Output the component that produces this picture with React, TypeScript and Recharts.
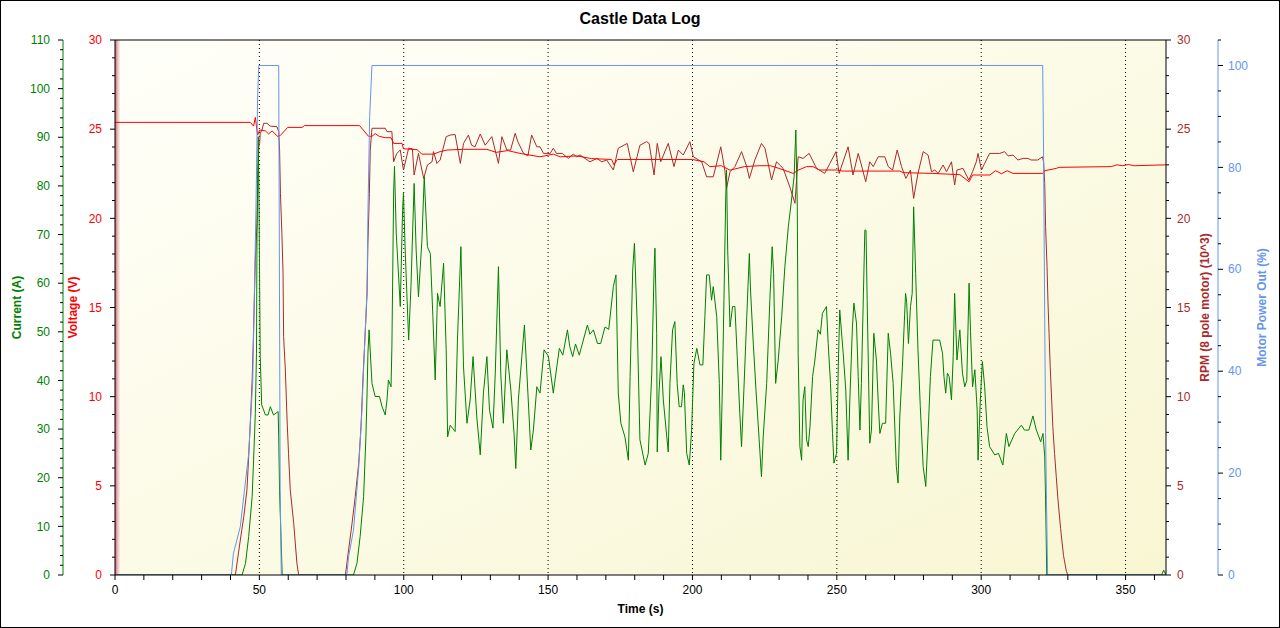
import React from 'react'
import {
  ComposedChart,
  Line,
  XAxis,
  YAxis,
  CartesianGrid,
  ReferenceArea
} from 'recharts'

// motor power out (%)
const powerTime = [0, 40.3, 41, 43.4, 46.3, 47.7, 48.8, 49.4, 49.8, 56.7, 57.2, 57.6, 80.3, 80.9, 82.6, 84.4, 85.5, 86.1, 87.3, 87.6, 88.2, 89, 321.3, 321.6, 322, 322.3, 322.6, 323, 364]
const powerPct = [0, 0, 4.2, 9.5, 23.8, 38, 71, 94, 100, 100, 17, 0, 0, 3.6, 8.8, 21, 32, 40.5, 56, 71, 90, 100, 100, 83, 50, 28, 14.7, 0, 0]

// battery voltage (V)
const voltageTime = [
  0, 46.9, 48.0, 48.6, 49.4, 50.1, 52.1, 53.2, 54.4, 56.3,
  57.3, 59.8, 64.8, 65.6, 84.7, 87.8, 89, 90.1, 91.5, 93.6,
  95.6, 96.5, 99.4, 99.9, 104.6, 106.3, 110.3, 112.6, 115, 120.7,
  128.8, 132, 136, 140.3, 147.2, 151.8, 154.2, 160, 165, 172,
  172.8, 174, 200, 204, 206, 210, 213, 218, 223, 227,
  230, 234.9, 236.6, 239.5, 241.7, 244, 250, 252, 271.8, 273,
  283, 292.6, 295.8, 297, 303, 305, 307, 309, 311, 321.3,
  322, 326, 327, 345, 347, 349, 351, 353, 364
]
const voltageVolts = [
  25.38, 25.38, 25.17, 25.66, 24.67, 24.95, 24.9, 24.73, 24.9, 24.6,
  24.65, 25.1, 25.1, 25.2, 25.2, 24.6, 24.6, 24.75, 24.6, 24.52,
  24.52, 24.2, 24.2, 23.9, 23.85, 23.6, 23.6, 23.74, 23.83, 23.87,
  23.87, 23.7, 23.8, 23.64, 23.45, 23.6, 23.45, 23.5, 23.35, 23.3,
  23.0, 23.3, 23.3, 23.17, 22.9, 22.95, 22.7, 22.9, 22.95, 22.95,
  22.8, 22.52, 22.7, 22.9, 22.9, 22.71, 22.71, 22.65, 22.65, 22.56,
  22.52, 22.45, 22.05, 22.43, 22.43, 22.67, 22.5, 22.67, 22.52, 22.52,
  22.67, 22.8, 22.86, 22.9, 23.0, 22.95, 23.02, 22.95, 23.0
]

// rpm, 8 pole motor (x1000)
const rpmTime = [
  0, 41.7, 43.4, 44.6, 45.7, 46.3, 46.9, 47.5, 48.0, 48.6,
  49.2, 49.8, 50.1, 50.3, 50.9, 51.5, 52.6, 53.8, 56.1, 56.7,
  57.0, 57.3, 57.8, 58.2, 58.4, 59.0, 59.6, 60.1, 60.7, 61.9,
  63.0, 63.6, 79.8, 80.9, 82.1, 83.2, 84.4, 85.2, 85.9, 86.7,
  87.3, 87.6, 88.1, 88.4, 89.0, 93.6, 94.2, 95.9, 96.5, 97.6,
  98.8, 99.9, 101.7, 103, 103.6, 105.1, 106.9, 108.2, 109.8, 110.3,
  111.5, 112.6, 114.7, 116.1, 117.8, 119.6, 120.7, 122.4, 123.5, 124.7,
  126.5, 128.2, 130.5, 132.8, 134, 135.7, 137, 138.6, 139.5, 141.5,
  143, 144.3, 146.1, 147.2, 148.4, 150.7, 151.8, 152.9, 154.9, 157,
  158.7, 159.9, 161.1, 162.8, 164.5, 166.9, 168.6, 170.3, 172.6, 174.3,
  177.4, 179.5, 181.8, 184.1, 185, 186.7, 187.8, 189, 191.6, 193.6,
  195.1, 196.8, 199.1, 200.3, 203.2, 204.9, 207.2, 209.8, 211.2, 211.8,
  213, 214.7, 217, 218.8, 219.7, 221.6, 223.9, 225.1, 227.4, 229.1,
  231.4, 233.7, 235.5, 236.6, 238.3, 240.4, 243, 245.8, 247.6, 249.7,
  250.8, 253.9, 255.6, 257.4, 258.5, 260, 261.4, 262.6, 264.3, 266.6,
  267.8, 269.3, 270.9, 272.4, 273.9, 275.5, 276.6, 278.1, 279.9, 281.6,
  282.8, 283.9, 285.1, 286.8, 288, 289.7, 290.8, 291.6, 293.7, 295.7,
  297, 298.3, 298.9, 300.1, 301.2, 302.9, 306.4, 308.1, 309.3, 311,
  312.7, 314.5, 316.2, 317.3, 319.6, 321.2, 321.6, 322, 322.3, 322.8,
  323.1, 323.5, 323.9, 324.4, 324.8, 325.4, 326, 326.6, 327.5, 328.5,
  329.5, 330, 364
]
const rpmK = [
  0, 0, 1.96, 3.27, 4.77, 6.63, 8.69, 10.93, 13.74, 17.66,
  19.72, 24.0, 24.2, 24.77, 24.95, 25.33, 25.33, 25.17, 25.14, 24.86,
  23.83, 21.4, 19.16, 16.92, 13.36, 11.5, 8.69, 6.82, 4.77, 2.9,
  0.66, 0, 0, 1.4, 2.9, 4.39, 6.26, 8.32, 11.12, 13.74,
  15.8, 18.6, 21.4, 23.83, 25.05, 25.05, 24.86, 24.86, 23.17, 23.64,
  23.83, 22.71, 23.93, 23.9, 22.43, 23.64, 22.24, 22.99, 23.17, 23.74,
  23.08, 23.27, 24.58, 24.67, 24.7, 23.08, 24.2, 24.67, 24.1, 24.01,
  24.73, 24.1, 24.58, 23.08, 24.58, 23.83, 23.83, 24.77, 24.3, 23.64,
  23.5, 24.67, 24.01, 24.01, 23.64, 23.64, 23.93, 23.64, 23.64, 23.36,
  23.6, 23.45, 23.55, 23.36, 23.17, 23.36, 23.17, 23.27, 22.71, 23.93,
  24.2, 22.61, 24.1, 24.3, 24.2, 22.43, 24.2, 23.17, 24.2, 22.9,
  23.83, 23.55, 24.3, 23.45, 23.17, 22.33, 22.33, 24.01, 22.71, 21.68,
  22.61, 22.9, 23.74, 22.9, 22.24, 23.27, 24.2, 23.93, 22.15, 23.17,
  22.8, 21.77, 20.84, 23.45, 23.36, 23.64, 22.8, 22.52, 23.08, 23.74,
  22.52, 24.01, 22.43, 23.64, 22.99, 22.05, 23.17, 22.9, 23.45, 23.45,
  22.9, 22.71, 23.83, 22.9, 22.24, 22.71, 21.12, 22.52, 23.74, 23.55,
  22.61, 22.71, 22.52, 22.99, 22.61, 23.17, 21.87, 22.71, 22.8, 22.15,
  22.61, 23.17, 23.64, 22.71, 23.08, 23.64, 23.64, 23.74, 23.5, 23.55,
  23.27, 23.36, 23.36, 23.27, 23.27, 23.45, 23.17, 21.96, 19.53, 17.29,
  15.42, 13.55, 11.68, 9.81, 8.32, 6.82, 5.51, 4.2, 2.6, 1.1,
  0.2, 0, 0
]

// motor current (A)
const currentTime = [
  0, 44, 45.2, 46.3, 47.5, 48, 48.6, 49, 49.2, 49.6,
  49.8, 50.3, 50.8, 52.1, 53, 53.8, 54.9, 56.5, 56.7, 57,
  57.6, 57.9, 82.6, 83.8, 84.9, 86.1, 86.9, 87.3, 87.6, 88,
  89, 90.1, 91.6, 92.5, 93.6, 94.2, 94.7, 95.6, 95.9, 96.5,
  96.8, 97.4, 98.8, 99.6, 99.9, 100.5, 101.7, 102.5, 103.6, 104.3,
  105.1, 106.3, 107.1, 108.2, 109.2, 110.1, 110.9, 111.7, 112.6, 113.8,
  114.7, 115.2, 116.1, 117.8, 118.6, 119.8, 120.7, 121.9, 123, 124,
  125.3, 126.5, 127.6, 128.8, 129.7, 130.9, 131.7, 132.8, 133.6, 134.5,
  135.7, 137.1, 138.2, 138.8, 139.7, 140.9, 141.8, 143, 144, 144.9,
  146.1, 147.2, 148.6, 150.1, 151.8, 153, 153.9, 155.1, 156.7, 157.5,
  158.5, 159.5, 160.8, 163.6, 164.5, 165.7, 167.1, 168.2, 169.7, 171,
  172.6, 173.5, 174.3, 175.2, 176.6, 177.8, 178.4, 179.3, 179.9, 180.9,
  181.8, 183.6, 184.7, 185.9, 186.7, 187, 187.6, 187.8, 188.4, 189.1,
  189.9, 191.1, 191.6, 192.2, 193.1, 193.9, 194.7, 195.4, 196.2, 196.8,
  197.2, 198, 198.9, 199.7, 200.5, 201.5, 202.6, 203.6, 204.3, 204.9,
  205.8, 206.6, 207.2, 208.4, 209.3, 209.8, 210.4, 210.9, 211.5, 211.8,
  212.2, 213, 213.9, 214.7, 215.5, 216.4, 217, 217.8, 218.8, 219.7,
  220.1, 221, 222, 223.1, 223.9, 224.5, 225.7, 226.8, 227.6, 228.1,
  228.8, 229.7, 230.9, 232, 233.2, 234.3, 235.2, 235.8, 236.3, 236.6,
  237.2, 237.8, 238.3, 238.9, 239.5, 240.1, 240.7, 241.6, 242.4, 243.5,
  244.3, 245, 246.4, 247, 247.8, 248.5, 249, 249.9, 250.5, 251,
  252.2, 253.1, 253.9, 254.5, 255.4, 255.9, 256.8, 257.4, 258, 258.5,
  259.7, 260.1, 260.5, 261.4, 262, 262.8, 263.7, 264.3, 264.9, 265.8,
  266.9, 267.8, 268.6, 269.5, 270.6, 271.2, 271.8, 272.7, 273.8, 274.2,
  274.8, 275.5, 276.1, 276.6, 277.3, 278.1, 278.9, 279.9, 280.8, 281.6,
  282.4, 283.3, 285.6, 286.6, 287.1, 287.7, 288.3, 288.9, 289.7, 290.3,
  290.8, 291.6, 292.6, 293.5, 294.3, 295, 295.8, 296.3, 297, 297.8,
  298.6, 298.9, 299.7, 300.4, 301.2, 302, 302.9, 304.7, 306, 307.5,
  308.7, 309.6, 311.6, 313.9, 315, 316.5, 317.9, 319.1, 320.6, 321.4,
  322, 322.3, 322.7, 362.5, 363.2, 364
]
const currentAmps = [
  0, 0, 2.4, 7.9, 16.1, 23.6, 33.2, 45.6, 72.3, 90.1,
  81.6, 44.9, 35, 32.9, 32.9, 34.6, 32.9, 33.6, 28.4, 17.1,
  5.8, 0, 0, 2.4, 7.9, 16.1, 28.4, 37.4, 45.6, 50.4,
  39.4, 36.7, 36.7, 34.6, 32.9, 36, 40.1, 38.7, 46.9, 78.5,
  84, 70.3, 55.2, 75, 78.5, 66.8, 48.3, 59.3, 80.5, 66.8,
  57.2, 68.9, 81.9, 67.5, 66.1, 53.1, 40.1, 57.9, 55.2, 64.1,
  46.3, 28.4, 30.8, 29.5, 48.3, 67.5, 42.8, 31.2, 36, 44.9,
  32.5, 24.7, 37.4, 44.9, 33.9, 30.2, 41.5, 63.4, 41.5, 31.2,
  46.3, 38, 29.1, 21.9, 36, 44.9, 51.4, 37.4, 25.7, 29.8,
  38.7, 37.4, 46.3, 45, 37.4, 42.8, 46.6, 45.2, 50.4, 47,
  44.9, 47.5, 45.2, 51.4, 49.5, 50.4, 47.6, 47.6, 51, 50.5,
  59.3, 61.7, 37.4, 31.2, 28.4, 23.6, 40.8, 62.7, 68.2, 51,
  27.8, 22.6, 25, 41.5, 62.7, 67.2, 49.7, 25.3, 37.4, 44.9,
  36, 28.4, 25.3, 39.4, 50.4, 52.1, 39.4, 34.6, 34.6, 39.1,
  37.5, 25, 22.6, 29.8, 43.5, 46.6, 43.2, 43.2, 53.1, 61.7,
  61.7, 56.5, 59.3, 53.1, 39.4, 23.6, 40.1, 56.5, 77.1, 83.3,
  66.8, 51, 55.2, 55.2, 44.9, 33.2, 26.4, 38, 53.1, 66.1,
  58.6, 48.3, 38, 27.8, 20.2, 28.4, 39.4, 56.5, 67.5, 62,
  39.4, 44.2, 53.1, 63.4, 71.6, 77.1, 81.9, 91.5, 75.7, 45.6,
  26.4, 23.6, 36, 38.7, 27.8, 26.4, 30.5, 40.8, 44.2, 50.4,
  49.5, 53.8, 55.2, 47.6, 39.4, 29.1, 23, 25, 42.8, 54.5,
  45.6, 38, 23.6, 36, 51, 55.9, 51.8, 40.8, 29.8, 39.4,
  70.9, 70.9, 56.5, 27.1, 29.8, 49.7, 44.2, 36, 29.1, 31.2,
  31.2, 49.7, 45.6, 39.4, 22.3, 18.9, 32.5, 42.8, 57.9, 56,
  47.6, 55.2, 57.9, 75.7, 62, 46.3, 34.6, 22.3, 18.2, 29.1,
  40.8, 48.3, 48.3, 45.6, 40.8, 37.4, 41.5, 40.8, 36, 44.9,
  57.9, 44.2, 50.4, 41.5, 38.7, 40, 60, 50, 38.7, 42.2,
  33.9, 23.6, 36, 43.9, 38.7, 30.5, 26.4, 24.7, 25, 22.6,
  29.1, 26.4, 29.1, 30.8, 29.8, 29.8, 32.7, 29.8, 27.4, 29.1,
  24.3, 15.4, 0, 0, 1.0, 0
]

const timeTicks = [0, 10, 20, 30, 40, 50, 60, 70, 80, 90, 100, 110, 120, 130, 140, 150, 160, 170, 180, 190, 200, 210, 220, 230, 240, 250, 260, 270, 280, 290, 300, 310, 320, 330, 340, 350, 360]
const gridTimes = [50, 100, 150, 200, 250, 300, 350]

const range = (max: number, step: number) =>
  Array.from({ length: Math.round(max / step) + 1 }, (_, i) => i * step)

const currentTicks = range(110, 2)
const voltTicks = range(30, 1)
const rpmTicks = range(30, 1)
const powerTicks = range(105, 5)

const COLORS = {
  current: '#008000',
  voltage: '#ff0000',
  rpm: '#aa2a2a',
  power: '#6495ed'
}

// axis ids: on each side the lower id sits next to the plot
const AX = { volt: 'y1', cur: 'y2', rpm: 'y3', pwr: 'y4' }

const toPoints = (t: number[], v: number[]) => t.map((x, i) => ({ t: x, v: v[i] }))

const powerData = toPoints(powerTime, powerPct)
const voltageData = toPoints(voltageTime, voltageVolts)
const rpmData = toPoints(rpmTime, rpmK)
const currentData = toPoints(currentTime, currentAmps)

// long ticks + label on the labelled values, short ticks in between
function sideTick(side: 'left' | 'right', color: string, every: number, gap: number) {
  return (props: any) => {
    const { x, y, payload } = props
    const major = payload.value % every === 0
    const dir = side === 'left' ? -1 : 1
    const len = major ? 5 : 3
    return (
      <g>
        <line x1={x} x2={x + dir * len} y1={y} y2={y} stroke="#000" />
        {major && (
          <text
            x={x + dir * gap}
            y={y}
            dy="0.35em"
            textAnchor={side === 'left' ? 'end' : 'start'}
            fill={color}
            fontSize={12}
          >
            {payload.value}
          </text>
        )}
      </g>
    )
  }
}

const axisTitle = (value: string, color: string, position: string, offset: number) => ({
  value,
  angle: -90,
  position,
  offset,
  style: { textAnchor: 'middle', fill: color, fontWeight: 'bold', fontSize: 12 }
})

export default function App() {
  return (
    <div
      style={{
        position: 'absolute',
        left: 0,
        top: 0,
        width: 1280,
        height: 628,
        border: '1px solid #000',
        boxSizing: 'border-box',
        background: '#fff',
        fontFamily: '"Liberation Sans", Arial, sans-serif'
      }}
    >
      <ComposedChart width={1278} height={626} margin={{ top: 39, right: 0, bottom: 0, left: 0 }}>
        <defs>
          <linearGradient id="plotBg" x1="0" y1="0" x2="1" y2="1">
            <stop offset="0%" stopColor="#fffffa" />
            <stop offset="100%" stopColor="#f8f6d2" />
          </linearGradient>
          <linearGradient id="edge" x1="0" y1="0" x2="1" y2="0">
            <stop offset="0%" stopColor="#c86a6a" />
            <stop offset="60%" stopColor="#f0c4c4" />
            <stop offset="100%" stopColor="#fbeaea" />
          </linearGradient>
        </defs>
        <CartesianGrid
          yAxisId={AX.volt}
          horizontal={false}
          verticalValues={gridTimes}
          stroke="#000"
          strokeDasharray="1 3"
          fill="url(#plotBg)"
          fillOpacity={1}
        />
        <ReferenceArea
          yAxisId={AX.volt}
          x1={0}
          x2={1.7}
          y1={0}
          y2={30}
          fill="url(#edge)"
          fillOpacity={1}
          stroke="none"
          ifOverflow="hidden"
        />
        <XAxis
          type="number"
          dataKey="t"
          domain={[0, 364]}
          allowDataOverflow
          ticks={timeTicks}
          interval={0}
          tickFormatter={(v: number) => (v % 50 === 0 ? String(v) : '')}
          tickSize={5}
          tickMargin={5}
          height={52}
          stroke="#000"
          tick={{ fill: '#000', fontSize: 12 }}
          label={{ value: 'Time (s)', position: 'insideBottom', offset: 14, style: { fontWeight: 'bold', fontSize: 12, fill: '#000' } }}
        />
        <XAxis
          xAxisId="top"
          orientation="top"
          mirror
          type="number"
          domain={[0, 364]}
          allowDataOverflow
          ticks={timeTicks}
          interval={0}
          tickFormatter={() => ''}
          tickSize={3}
          height={1}
          stroke="#000"
        />
        <YAxis
          yAxisId={AX.volt}
          orientation="left"
          type="number"
          width={52}
          domain={[0, 30]}
          allowDataOverflow
          ticks={voltTicks}
          interval={0}
          tickSize={0}
          tickMargin={0}
          tickLine={false}
          tick={sideTick('left', COLORS.voltage, 5, 13)}
          stroke="#000"
          label={axisTitle('Voltage (V)', COLORS.voltage, 'insideLeft', 10)}
        />
        <YAxis
          yAxisId={AX.cur}
          orientation="left"
          type="number"
          width={62}
          domain={[0, 110]}
          allowDataOverflow
          ticks={currentTicks}
          interval={0}
          tickSize={0}
          tickMargin={0}
          tickLine={false}
          tick={sideTick('left', COLORS.current, 10, 13)}
          stroke={COLORS.current}
          label={axisTitle('Current (A)', COLORS.current, 'insideLeft', 16)}
        />
        <YAxis
          yAxisId={AX.rpm}
          orientation="right"
          type="number"
          width={52}
          domain={[0, 30]}
          allowDataOverflow
          ticks={rpmTicks}
          interval={0}
          tickSize={0}
          tickMargin={0}
          tickLine={false}
          tick={sideTick('right', COLORS.rpm, 5, 11)}
          stroke="#000"
          label={axisTitle('RPM (8 pole motor) (10^3)', COLORS.rpm, 'insideRight', 13)}
        />
        <YAxis
          yAxisId={AX.pwr}
          orientation="right"
          type="number"
          width={61}
          domain={[0, 105]}
          allowDataOverflow
          ticks={powerTicks}
          interval={0}
          tickSize={0}
          tickMargin={0}
          tickLine={false}
          tick={sideTick('right', COLORS.power, 20, 10)}
          stroke={COLORS.power}
          label={axisTitle('Motor Power Out (%)', COLORS.power, 'insideRight', 17)}
        />
        <Line
          data={rpmData}
          dataKey="v"
          yAxisId={AX.rpm}
          type="linear"
          stroke={COLORS.rpm}
          strokeWidth={1}
          dot={false}
          isAnimationActive={false}
        />
        <Line
          data={voltageData}
          dataKey="v"
          yAxisId={AX.volt}
          type="linear"
          stroke={COLORS.voltage}
          strokeWidth={1}
          dot={false}
          isAnimationActive={false}
        />
        <Line
          data={currentData}
          dataKey="v"
          yAxisId={AX.cur}
          type="linear"
          stroke={COLORS.current}
          strokeWidth={1}
          dot={false}
          isAnimationActive={false}
        />
        <Line
          data={powerData}
          dataKey="v"
          yAxisId={AX.pwr}
          type="linear"
          stroke={COLORS.power}
          strokeWidth={1}
          dot={false}
          isAnimationActive={false}
        />
      </ComposedChart>
      <div
        style={{
          position: 'absolute',
          top: 8,
          left: 0,
          width: '100%',
          textAlign: 'center',
          fontSize: 16,
          fontWeight: 'bold',
          lineHeight: '20px',
          color: '#000'
        }}
      >
        Castle Data Log
      </div>
    </div>
  )
}
